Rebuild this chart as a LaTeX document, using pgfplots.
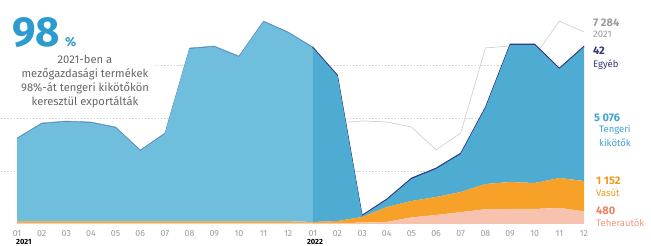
\documentclass[border=0pt]{standalone}
\usepackage{fontspec}
\setmainfont{Fira Sans}
\usepackage{pgfplots}
\usepackage{pgfplotstable}
\pgfplotsset{compat=1.18}

\definecolor{sea}{HTML}{4EACD2}
\definecolor{sealight}{HTML}{6FBEDE}
\definecolor{rail}{HTML}{F7A128}
\definecolor{raillight}{HTML}{E9B25E}
\definecolor{truck}{HTML}{F8C3AE}
\definecolor{trucklight}{HTML}{F3CDBD}
\definecolor{other}{HTML}{2E3A86}
\definecolor{otherlight}{HTML}{5A8FC4}
\definecolor{greyline}{HTML}{D2D2D2}
\definecolor{bigblue}{HTML}{2B9BD0}
\definecolor{txtgray}{HTML}{666666}
\definecolor{labgray}{HTML}{9A9A9A}
\definecolor{labblue}{HTML}{3CA3D2}
\definecolor{laborange}{HTML}{F39A1E}
\definecolor{labred}{HTML}{EE7E5C}
\definecolor{labsalmon}{HTML}{F0967C}
\definecolor{labnavy}{HTML}{2F3480}

% 2021 (x = 0..11) plus Jan 2022 (x = 12)
\pgfplotstableread{
x truck rail sea other
0 30 80 3112 40
1 30 80 3681 40
2 30 80 3757 40
3 30 80 3719 40
4 30 80 3529 40
5 30 80 2657 40
6 30 80 3302 40
7 30 80 6526 40
8 30 80 6602 40
9 30 80 6222 40
10 30 80 7550 40
11 30 80 7134 40
12 40 36 6598 40
}\dataA

% 2022 (x = 12..23)
\pgfplotstableread{
x truck rail sea other
12 40 36 6598 40
13 40 74 5498 40
14 50 215 46 30
15 80 565 265 40
16 250 622 833 40
17 340 684 1060 40
18 450 764 1439 40
19 560 957 2881 40
20 570 1023 5194 40
21 570 985 5232 40
22 610 1135 4132 40
23 480 1152 5076 42
}\dataB

% 2021 totals shown over the 2022 months
\pgfplotstableread{
x total
12 3260
13 3830
14 3910
15 3870
16 3680
17 2810
18 3450
19 6680
20 6750
21 6370
22 7700
23 7284
}\dataC

\pgfplotsset{base/.style={
  scale only axis, width=583pt, height=224pt,
  xmin=-0.65, xmax=23, ymin=0, ymax=8498,
  at={(1pt,22pt)}, anchor=south west,
  axis line style={draw=none}, tick style={draw=none},
}}

\begin{document}
\begin{tikzpicture}
% 2021 part with axis decorations
\begin{axis}[base,
  stack plots=y,
  xtick={0,...,23},
  xticklabels={01,02,03,04,05,06,07,08,09,10,11,12,01,02,03,04,05,06,07,08,09,10,11,12},
  xticklabel style={font=\fontsize{8.8}{8.8}\selectfont, text=labgray, inner sep=0pt, anchor=north, yshift=-6pt},
  ytick={2000,4000,6000}, yticklabels={},
  ymajorgrids,
  grid style={greyline, line width=0.7pt, dash pattern=on 1.6pt off 1.6pt},
]
\addplot[fill=trucklight, draw=none] table[x=x,y=truck]{\dataA} \closedcycle;
\addplot[fill=raillight, draw=none] table[x=x,y=rail]{\dataA} \closedcycle;
\addplot[fill=sealight, draw=none] table[x=x,y=sea]{\dataA} \closedcycle;
\addplot[fill=otherlight, draw=otherlight, line width=0.4pt] table[x=x,y=other]{\dataA} \closedcycle;
\end{axis}
% grey comparison line (2021 values)
\begin{axis}[base, hide axis]
\addplot[greyline, line width=0.7pt] table[x=x,y=total]{\dataC};
\end{axis}
% 2022 part
\begin{axis}[base, hide axis, stack plots=y]
\addplot[fill=truck, draw=none] table[x=x,y=truck]{\dataB} \closedcycle;
\addplot[fill=rail, draw=none] table[x=x,y=rail]{\dataB} \closedcycle;
\addplot[fill=sea, draw=none] table[x=x,y=sea]{\dataB} \closedcycle;
\addplot[fill=other, draw=other, line width=0.6pt] table[x=x,y=other]{\dataB} \closedcycle;
\end{axis}

% left header
\fill[white] (0pt,190pt) rectangle (155pt,136pt);
\node[anchor=base west, inner sep=0pt, font=\fontsize{42}{42}\selectfont\bfseries, text=bigblue] at (12pt,199pt) {98};
\node[anchor=base west, inner sep=0pt, font=\fontsize{13}{13}\selectfont\bfseries, text=bigblue] at (65pt,199pt) {\%};
\node[anchor=north, align=center, inner sep=0pt, font=\fontsize{11.2}{14}\selectfont, text=txtgray] at (85pt,191pt)
  {2021-ben a\\mezőgazdasági termékek\\98\%-át tengeri kikötőkön\\keresztül exportálták};

% right labels
\begin{scope}[every node/.style={anchor=base west, inner sep=0pt}]
\node[font=\fontsize{11}{11}\selectfont\bfseries, text=labgray] at (593pt,219pt) {7 284};
\node[font=\fontsize{9.5}{9.5}\selectfont, text=labgray] at (593pt,208pt) {2021};
\node[font=\fontsize{11}{11}\selectfont\bfseries, text=labnavy] at (593pt,191pt) {42};
\node[font=\fontsize{9.5}{9.5}\selectfont, text=labnavy] at (593pt,178pt) {Egyéb};
\node[font=\fontsize{11}{11}\selectfont\bfseries, text=labblue] at (594pt,124pt) {5 076};
\node[font=\fontsize{9.5}{9.5}\selectfont, text=labblue] at (599pt,113pt) {Tengeri};
\node[font=\fontsize{9.5}{9.5}\selectfont, text=labblue] at (599pt,99pt) {kikötők};
\node[font=\fontsize{11}{11}\selectfont\bfseries, text=laborange] at (596pt,61pt) {1 152};
\node[font=\fontsize{9.5}{9.5}\selectfont, text=laborange] at (596pt,49pt) {Vasút};
\node[font=\fontsize{11}{11}\selectfont\bfseries, text=labred] at (596pt,31pt) {480};
\node[font=\fontsize{9.5}{9.5}\selectfont, text=labsalmon] at (596pt,19pt) {Teherautók};
\end{scope}

% year labels
\node[anchor=base west, inner sep=0pt, font=\fontsize{7.5}{7.5}\selectfont\bfseries] at (16pt,1pt) {2021};
\node[anchor=base, inner sep=0pt, font=\fontsize{7.5}{7.5}\selectfont\bfseries] at (315pt,1pt) {2022};

\pgfresetboundingbox
\useasboundingbox (0,0) rectangle (651pt,246pt);
\end{tikzpicture}
\end{document}
